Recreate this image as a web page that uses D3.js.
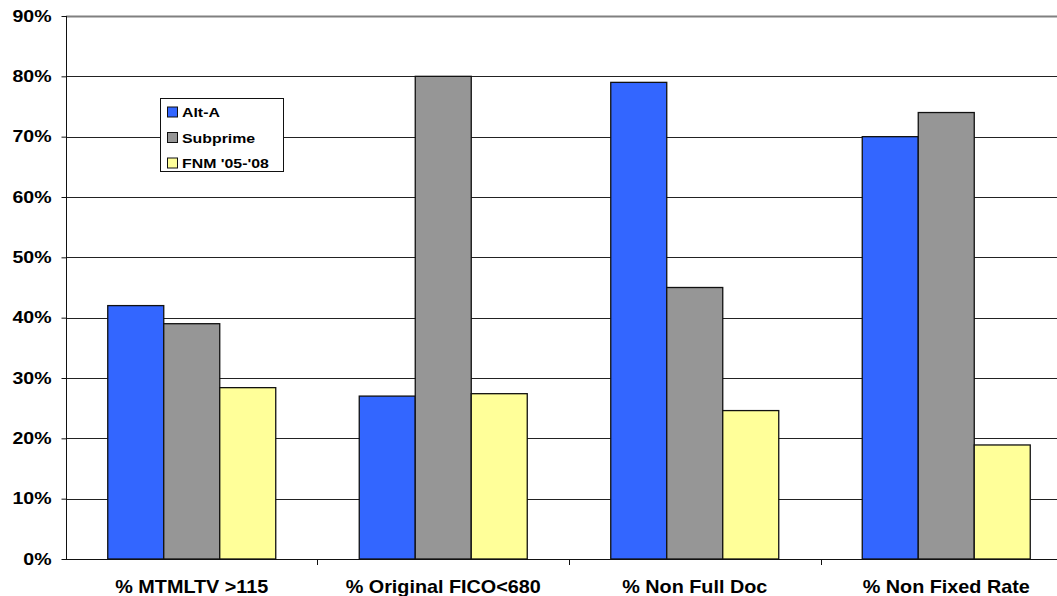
<!DOCTYPE html>
<html><head><meta charset="utf-8">
<script src="https://cdn.jsdelivr.net/npm/d3@7"></script>
<style>
html,body{margin:0;padding:0;background:#fff;}
svg{display:block;font-family:"Liberation Sans",Arial,sans-serif;font-weight:bold;}
</style></head>
<body>
<svg id="chart" width="1057" height="596"></svg>
<script>
const categories = ["% MTMLTV >115", "% Original FICO<680", "% Non Full Doc", "% Non Fixed Rate"];
const seriesNames = ["Alt-A", "Subprime", "FNM '05-'08"];
const altA = [0.42, 0.27, 0.79, 0.70];
const subprime = [0.39, 0.80, 0.45, 0.74];
const fnm = [0.284, 0.274, 0.246, 0.189];
const yTicks = [0, 0.1, 0.2, 0.3, 0.4, 0.5, 0.6, 0.7, 0.8, 0.9];
const colors = ["#3366FF", "#969696", "#FFFF99"];

(function () {
const seriesValues = [altA, subprime, fnm];
const svg = d3.select("#chart");
const mLeft = 66, mTop = 16, mBottom = 559;
const step = 251.5;

const x = d3.scaleBand().domain(categories).range([mLeft, mLeft + 4 * step])
  .paddingInner(0.332).paddingOuter(0.166);
const x1 = d3.scaleBand().domain(seriesNames).range([0, x.bandwidth()]);
const y = d3.scaleLinear().domain([0, 0.9]).range([mBottom, mTop]);
const color = d3.scaleOrdinal().domain(seriesNames).range(colors);

// gridlines
svg.append("g").selectAll("line").data(yTicks.filter(d => d > 0)).join("line")
  .attr("x1", mLeft).attr("x2", 1057)
  .attr("y1", d => Math.round(y(d)) + 0.5).attr("y2", d => Math.round(y(d)) + 0.5)
  .attr("stroke", d => d === 0.9 ? "#808080" : "#222")
  .attr("stroke-width", d => d === 0.9 ? 2 : 1);

// bars
const groups = svg.append("g").selectAll("g").data(categories).join("g")
  .attr("transform", c => `translate(${x(c)},0)`);
groups.selectAll("rect").data((c, i) => seriesNames.map((s, j) => ({s, v: seriesValues[j][i]})))
  .join("rect")
  .attr("x", d => x1(d.s)).attr("width", x1.bandwidth())
  .attr("y", d => y(d.v)).attr("height", d => mBottom - y(d.v))
  .attr("fill", d => color(d.s)).attr("stroke", "#111").attr("stroke-width", 1.3);

// y axis
const yAxis = svg.append("g").attr("transform", `translate(${mLeft + 0.5},0)`)
  .call(d3.axisLeft(y).tickValues(yTicks).tickFormat(d3.format(".0%")).tickSize(5).tickPadding(7.3));
yAxis.select(".domain").attr("stroke", "#111").attr("d", `M0,${mTop}V${mBottom}`);
yAxis.selectAll(".tick line").attr("stroke", "#111");
yAxis.selectAll(".tick text").attr("font-size", 16).attr("font-weight", "bold")
  .attr("font-family", "Liberation Sans, Arial, sans-serif").attr("fill", "#000")
  .attr("transform", "scale(1.22,1)");

// x axis line and boundary ticks
svg.append("line").attr("x1", mLeft).attr("x2", 1057)
  .attr("y1", mBottom + 0.5).attr("y2", mBottom + 0.5).attr("stroke", "#111");
const bounds = categories.map(c => x(c) - x.step() * x.paddingInner() / 2);
svg.append("g").selectAll("line").data(bounds.slice(1)).join("line")
  .attr("x1", d => Math.round(d) + 0.5).attr("x2", d => Math.round(d) + 0.5)
  .attr("y1", mBottom).attr("y2", mBottom + 6).attr("stroke", "#111");

// category labels
svg.append("g").selectAll("text").data(categories).join("text")
  .attr("transform", c => `translate(${x(c) + x.bandwidth() / 2},593) scale(1.1,1)`)
  .attr("text-anchor", "middle").attr("font-size", 18).attr("fill", "#000")
  .text(c => c);

// legend
const lg = svg.append("g");
lg.append("rect").attr("x", 160.5).attr("y", 98.5).attr("width", 123).attr("height", 73)
  .attr("fill", "#fff").attr("stroke", "#111");
const rows = lg.selectAll("g").data(seriesNames).join("g")
  .attr("transform", (d, i) => `translate(0,${112 + i * 25.5})`);
rows.append("rect").attr("x", 167.5).attr("y", -5).attr("width", 10).attr("height", 10)
  .attr("fill", d => color(d)).attr("stroke", "#111");
rows.append("text").attr("transform", "translate(182,5) scale(1.22,1)")
  .attr("font-size", 13).attr("fill", "#000").text(d => d);
})();
</script>
</body></html>
